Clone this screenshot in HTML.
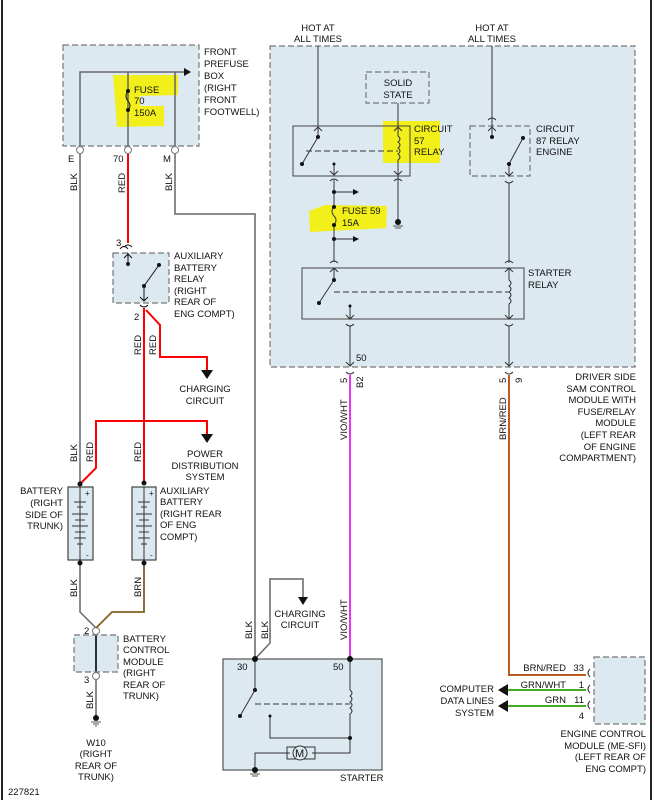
<!DOCTYPE html>
<html><head><meta charset="utf-8"><style>
html,body{margin:0;padding:0;background:#fff}
svg{display:block}
text{font-family:"Liberation Sans",Arial,sans-serif;font-size:9.5px;fill:#111}
</style></head><body>
<svg width="655" height="800" viewBox="0 0 655 800" xmlns="http://www.w3.org/2000/svg">
<defs>
<marker id="ar" markerWidth="8" markerHeight="8" refX="6" refY="4" orient="auto" markerUnits="userSpaceOnUse"><path d="M0,0 L7,4 L0,8 Z" fill="#111"/></marker>
<marker id="sa" markerWidth="6" markerHeight="6" refX="5" refY="3" orient="auto" markerUnits="userSpaceOnUse"><path d="M0,0 L6,3 L0,6 Z" fill="#111"/></marker>
</defs>
<rect width="655" height="800" fill="#fff"/>
<line x1="2" y1="0" x2="2" y2="800" stroke="#222" stroke-width="2"/>
<line x1="651" y1="0" x2="651" y2="800" stroke="#222" stroke-width="2"/>

<!-- boxes with fill -->
<g fill="#dde9f1" stroke="#777" stroke-dasharray="6,3" stroke-width="1.2">
<rect x="63" y="45" width="136" height="101"/>
<rect x="270" y="46" width="365" height="321"/>
<rect x="113" y="253" width="56" height="50"/>
<rect x="74" y="635" width="44" height="37"/>
<rect x="594" y="657" width="51" height="67"/>
</g>
<g fill="none" stroke="#777" stroke-dasharray="6,3" stroke-width="1.2">
<rect x="366" y="72" width="63" height="31"/>
<rect x="470" y="126" width="60" height="50"/>
</g>
<rect x="223" y="659" width="159" height="111" fill="#dde9f1" stroke="#555" stroke-width="1.2"/>

<!-- highlights -->
<g fill="#f2ef1a">
<path d="M113,75 L178,75 L178,95 L140,96 L140,106 L164,106 L164,126 L117,127 Z"/>
<rect x="383" y="121" width="57" height="42"/>
<path d="M309,211 L325,205 L387,206 L386,228 L310,232 Z"/>
</g>

<!-- gray wires -->
<g stroke="#666" stroke-width="1.5" fill="none">
<path d="M80,146 L80,72 L190,72" marker-end="url(#ar)"/>
<line x1="128" y1="72" x2="128" y2="146"/>
<line x1="175" y1="72" x2="175" y2="146"/>
<path d="M80,154 L80,484"/>
<path d="M175,154 L175,214 L255,214 L255,659"/>
<path d="M255,659 L270,643 L270,579 L303,579 L303,600"/>
<path d="M80,563 L80,612 L96,628"/>
<line x1="96" y1="635" x2="96" y2="672"/>
<line x1="96" y1="680" x2="96" y2="716"/>
</g>
<path d="M303,597 l-5,0 l5,8 l5,-8 z" fill="#111"/>
<g stroke="#111" stroke-width="1.6"><line x1="96" y1="636" x2="96" y2="671"/></g>
<circle cx="80" cy="150" r="3.5" fill="#fff" stroke="#777"/>
<circle cx="128" cy="150" r="3.5" fill="#fff" stroke="#777"/>
<circle cx="175" cy="150" r="3.5" fill="#fff" stroke="#777"/>
<circle cx="96" cy="631" r="3.5" fill="#fff" stroke="#777"/>
<circle cx="96" cy="676" r="3.5" fill="#fff" stroke="#777"/>
<!-- fuse 70 -->
<circle cx="128" cy="91" r="2" fill="#111"/><circle cx="128" cy="110" r="2" fill="#111"/>
<path d="M128,91 q-4,5 0,10 q4,5 0,9" stroke="#111" fill="none"/>
<!-- ground W10 -->
<circle cx="96" cy="718" r="3" fill="#111"/>
<g stroke="#555"><line x1="91" y1="722" x2="101" y2="722"/><line x1="93" y1="724" x2="99" y2="724"/><line x1="95" y1="726" x2="97" y2="726"/></g>

<!-- red wires -->
<g stroke="#f00" stroke-width="2" fill="none">
<line x1="128" y1="154" x2="128" y2="243"/>
<line x1="144" y1="308" x2="144" y2="483"/>
<path d="M146,310 L160,325 L160,357 L207,357 L207,372"/>
<path d="M80,484 L96,468 L96,421 L207,421 L207,436"/>
</g>
<path d="M201,370 l12,0 l-6,9 z M201,434 l12,0 l-6,9 z" fill="#111"/>
<!-- brown -->
<path d="M144,563 L144,612 L112,612 L96,628" stroke="#806020" stroke-width="1.8" fill="none"/>

<!-- aux relay internals -->
<g stroke="#111" fill="none" stroke-width="1">
<path d="M124,247 q4,-4 8,0 M120,249 q4,-5 8,0" />
<line x1="128" y1="253" x2="128" y2="264"/>
<path d="M124,258 l4,-4 l4,4"/>
<line x1="144" y1="286" x2="159" y2="265"/>
<line x1="144" y1="286" x2="144" y2="301"/>
<path d="M140,297 l4,4 l4,-4"/>
<path d="M140,305 q4,4 8,0"/>
</g>
<circle cx="128" cy="264" r="2" fill="#111"/><circle cx="159" cy="265" r="2" fill="#111"/><circle cx="144" cy="286" r="2" fill="#111"/>

<!-- batteries -->
<g stroke="#444" fill="#dde9f1" stroke-width="1.2">
<rect x="68" y="487" width="25" height="73"/>
<rect x="132" y="487" width="24" height="73"/>
</g>
<g stroke="#333" stroke-width="1">
<line x1="80" y1="487" x2="80" y2="560"/><line x1="144" y1="487" x2="144" y2="560"/>
<line x1="74" y1="502" x2="86" y2="502"/><line x1="77" y1="507" x2="83" y2="507"/>
<line x1="72" y1="514" x2="88" y2="514"/><line x1="75" y1="520" x2="85" y2="520"/>
<line x1="72" y1="526" x2="88" y2="526"/><line x1="75" y1="532" x2="85" y2="532"/>
<line x1="74" y1="538" x2="86" y2="538"/><line x1="77" y1="544" x2="83" y2="544"/>
<line x1="138" y1="502" x2="150" y2="502"/><line x1="141" y1="507" x2="147" y2="507"/>
<line x1="136" y1="514" x2="152" y2="514"/><line x1="139" y1="520" x2="149" y2="520"/>
<line x1="136" y1="526" x2="152" y2="526"/><line x1="139" y1="532" x2="149" y2="532"/>
<line x1="138" y1="538" x2="150" y2="538"/><line x1="141" y1="544" x2="147" y2="544"/>
</g>
<circle cx="80" cy="484" r="2.5" fill="#111"/><circle cx="144" cy="483" r="2.5" fill="#111"/>
<circle cx="80" cy="563" r="2.5" fill="#111"/><circle cx="144" cy="563" r="2.5" fill="#111"/>
<text x="85" y="496" style="font-size:8px">+</text><text x="149" y="496" style="font-size:8px">+</text>
<text x="86" y="558" style="font-size:8px">-</text><text x="150" y="558" style="font-size:8px">-</text>

<!-- SAM internals -->
<g stroke="#333" stroke-width="1" fill="none">
<line x1="318" y1="46" x2="318" y2="126"/>
<line x1="492" y1="46" x2="492" y2="120"/>
<rect x="293" y="126" width="117" height="50" stroke="#444"/>
<rect x="302" y="268" width="222" height="51" stroke="#444"/>
<path d="M314,131 l4,-4 l4,4"/>
<line x1="318" y1="127" x2="318" y2="137"/>
<line x1="302" y1="164" x2="318" y2="137"/>
<line x1="306" y1="151" x2="398" y2="151" stroke-dasharray="6,3"/>
<line x1="398" y1="103" x2="398" y2="126"/>
<path d="M394,131 l4,-4 l4,4"/>
<path d="M398,127 L398,136 q4,3 0,6 q4,3 0,6 q4,3 0,6 q4,3 0,6 L398,175"/>
<path d="M394,171 l4,4 l4,-4"/>
<path d="M394,181 q4,-4 8,0"/>
<line x1="398" y1="176" x2="398" y2="222"/>
<line x1="334" y1="164" x2="334" y2="175"/>
<path d="M330,171 l4,4 l4,-4"/>
<path d="M330,181 q4,-4 8,0"/>
<line x1="334" y1="180" x2="334" y2="207"/>
<path d="M334,207 q-4,4 0,9 q4,4 0,9"/>
<line x1="334" y1="225" x2="334" y2="262"/>
<line x1="334" y1="192" x2="358" y2="192" marker-end="url(#sa)"/>
<line x1="334" y1="239" x2="358" y2="239" marker-end="url(#sa)"/>
<path d="M330,263 q4,-4 8,0"/>
<path d="M330,272 l4,-4 l4,4"/>
<line x1="334" y1="268" x2="334" y2="280"/>
<line x1="319" y1="303" x2="334" y2="280"/>
<line x1="334" y1="292" x2="509" y2="292" stroke-dasharray="6,3"/>
<line x1="350" y1="306" x2="350" y2="319"/>
<path d="M346,315 l4,4 l4,-4"/>
<path d="M346,324 q4,4 8,0"/>
<line x1="350" y1="326" x2="350" y2="366"/>
<path d="M346,362 l4,4 l4,-4"/>
<path d="M346,372 q4,4 8,0"/>
<path d="M488,120 q4,-4 8,0"/>
<line x1="492" y1="120" x2="492" y2="137"/>
<path d="M488,131 l4,-4 l4,4"/>
<line x1="509" y1="164" x2="523" y2="138"/>
<line x1="509" y1="164" x2="509" y2="176"/>
<path d="M505,172 l4,4 l4,-4"/>
<path d="M505,181 q4,4 8,0"/>
<line x1="509" y1="183" x2="509" y2="263"/>
<path d="M505,263 q4,-4 8,0"/>
<path d="M505,272 l4,-4 l4,4"/>
<path d="M509,268 L509,280 q4,3 0,6 q4,3 0,6 q4,3 0,6 q4,3 0,6 L509,319"/>
<path d="M505,315 l4,4 l4,-4"/>
<path d="M505,324 q4,4 8,0"/>
<line x1="509" y1="326" x2="509" y2="366"/>
<path d="M505,362 l4,4 l4,-4"/>
<path d="M505,372 q4,4 8,0"/>
</g>
<g fill="#111">
<circle cx="318" cy="137" r="2"/><circle cx="302" cy="164" r="2"/><circle cx="334" cy="164" r="1.5"/>
<circle cx="334" cy="192" r="2"/><circle cx="334" cy="207" r="2"/><circle cx="334" cy="225" r="2"/><circle cx="334" cy="239" r="2"/>
<circle cx="398" cy="222" r="3"/>
<circle cx="334" cy="280" r="2"/><circle cx="319" cy="303" r="2"/><circle cx="350" cy="306" r="1.5"/>
<circle cx="492" cy="137" r="2"/><circle cx="523" cy="138" r="2"/><circle cx="509" cy="164" r="2"/>
</g>
<g stroke="#555"><line x1="393" y1="226" x2="403" y2="226"/><line x1="395" y1="228" x2="401" y2="228"/></g>

<!-- magenta and brn/red -->
<line x1="350" y1="375" x2="350" y2="659" stroke="#ee33ee" stroke-width="2"/>
<path d="M509,375 L509,675 L586,675" stroke="#b5651d" stroke-width="2" fill="none"/>
<path d="M509,375 L509,675 L586,675" stroke="#cc4a2a" stroke-width="0.6" fill="none"/>
<g stroke="#44aa22" stroke-width="2"><line x1="506" y1="690" x2="586" y2="690"/><line x1="506" y1="706" x2="586" y2="706"/></g>
<path d="M498,690 l10,-6 l0,12 z M498,706 l10,-6 l0,12 z" fill="#111"/>
<g stroke="#333" fill="none">
<path d="M590,669 q-4,4 0,8 M590,685 q-4,4 0,8 M590,701 q-4,4 0,8"/>
</g>

<!-- starter internals -->
<g stroke="#333" fill="none" stroke-width="1">
<line x1="255" y1="659" x2="255" y2="690"/>
<line x1="255" y1="690" x2="240" y2="716"/>
<line x1="255" y1="704" x2="350" y2="704" stroke-dasharray="6,3"/>
<path d="M350,659 L350,690 q4,3 0,6 q4,3 0,6 q4,3 0,6 q4,3 0,6 L350,738"/>
<path d="M270,716 L270,738 L350,738 L350,753 L312,753"/>
<path d="M290,753 L255,753 L255,770"/>
<rect x="287" y="747" width="28" height="12"/>
<circle cx="300" cy="753" r="7" fill="#dde9f1"/>
</g>
<text x="295" y="757" style="font-size:11px">M</text>
<g fill="#111"><circle cx="255" cy="659" r="3"/><circle cx="350" cy="659" r="3"/><circle cx="255" cy="690" r="2"/><circle cx="240" cy="716" r="2"/><circle cx="270" cy="716" r="1.5"/><circle cx="350" cy="738" r="2"/><circle cx="255" cy="770" r="3"/></g>
<g stroke="#555"><line x1="250" y1="774" x2="260" y2="774"/><line x1="252" y1="776" x2="258" y2="776"/></g>

<!-- texts -->
<text x="204" y="55">FRONT</text><text x="204" y="67">PREFUSE</text><text x="204" y="79">BOX</text><text x="204" y="91">(RIGHT</text><text x="204" y="103">FRONT</text><text x="204" y="115">FOOTWELL)</text>
<text x="134" y="93">FUSE</text><text x="134" y="104">70</text><text x="134" y="116">150A</text>
<text x="68" y="162">E</text><text x="113" y="162">70</text><text x="163" y="162">M</text>
<g style="font-size:9px">
<text transform="translate(77,191) rotate(-90)">BLK</text>
<text transform="translate(125,193) rotate(-90)">RED</text>
<text transform="translate(172,191) rotate(-90)">BLK</text>
<text transform="translate(141,355) rotate(-90)">RED</text>
<text transform="translate(156,355) rotate(-90)">RED</text>
<text transform="translate(77,462) rotate(-90)">BLK</text>
<text transform="translate(93,462) rotate(-90)">RED</text>
<text transform="translate(141,462) rotate(-90)">RED</text>
<text transform="translate(77,597) rotate(-90)">BLK</text>
<text transform="translate(141,597) rotate(-90)">BRN</text>
<text transform="translate(93,709) rotate(-90)">BLK</text>
<text transform="translate(252,639) rotate(-90)">BLK</text>
<text transform="translate(268,639) rotate(-90)">BLK</text>
<text transform="translate(347,640) rotate(-90)">VIO/WHT</text>
<text transform="translate(347,440) rotate(-90)">VIO/WHT</text>
<text transform="translate(506,440) rotate(-90)">BRN/RED</text>
<text transform="translate(347,383) rotate(-90)">5</text>
<text transform="translate(363,388) rotate(-90)">B2</text>
<text transform="translate(506,383) rotate(-90)">5</text>
<text transform="translate(522,383) rotate(-90)">9</text>
</g>
<text x="116" y="246">3</text><text x="134" y="320">2</text>
<text x="174" y="259">AUXILIARY</text><text x="174" y="271">BATTERY</text><text x="174" y="282">RELAY</text><text x="174" y="294">(RIGHT</text><text x="174" y="305">REAR OF</text><text x="174" y="317">ENG COMPT)</text>
<g text-anchor="middle">
<text x="205" y="392">CHARGING</text><text x="205" y="404">CIRCUIT</text>
<text x="205" y="457">POWER</text><text x="205" y="469">DISTRIBUTION</text><text x="205" y="480">SYSTEM</text>
<text x="300" y="617">CHARGING</text><text x="300" y="628">CIRCUIT</text>
<text x="96" y="746">W10</text><text x="96" y="757">(RIGHT</text><text x="96" y="769">REAR OF</text><text x="96" y="780">TRUNK)</text>
<text x="318" y="31">HOT AT</text><text x="318" y="42">ALL TIMES</text>
<text x="492" y="31">HOT AT</text><text x="492" y="42">ALL TIMES</text>
<text x="398" y="86">SOLID</text><text x="398" y="98">STATE</text>
</g>
<g text-anchor="end">
<text x="63" y="494">BATTERY</text><text x="63" y="506">(RIGHT</text><text x="63" y="518">SIDE OF</text><text x="63" y="529">TRUNK)</text>
<text x="494" y="692">COMPUTER</text><text x="494" y="704">DATA LINES</text><text x="494" y="716">SYSTEM</text>
<text x="636" y="380">DRIVER SIDE</text><text x="636" y="392">SAM CONTROL</text><text x="636" y="403">MODULE WITH</text><text x="636" y="415">FUSE/RELAY</text><text x="636" y="426">MODULE</text><text x="636" y="438">(LEFT REAR</text><text x="636" y="450">OF ENGINE</text><text x="636" y="461">COMPARTMENT)</text>
<text x="646" y="737">ENGINE CONTROL</text><text x="646" y="749">MODULE (ME-SFI)</text><text x="646" y="760">(LEFT REAR OF</text><text x="646" y="772">ENG COMPT)</text>
<text x="566" y="671">BRN/RED</text><text x="584" y="671">33</text>
<text x="566" y="688">GRN/WHT</text><text x="584" y="688">1</text>
<text x="566" y="703">GRN</text><text x="584" y="703">11</text>
<text x="584" y="719">4</text>
</g>
<text x="160" y="494">AUXILIARY</text><text x="160" y="505">BATTERY</text><text x="160" y="517">(RIGHT REAR</text><text x="160" y="528">OF ENG</text><text x="160" y="540">COMPT)</text>
<text x="123" y="642">BATTERY</text><text x="123" y="653">CONTROL</text><text x="123" y="665">MODULE</text><text x="123" y="676">(RIGHT</text><text x="123" y="688">REAR OF</text><text x="123" y="699">TRUNK)</text>
<text x="84" y="634">2</text><text x="84" y="683">3</text>
<text x="414" y="132">CIRCUIT</text><text x="414" y="144">57</text><text x="414" y="155">RELAY</text>
<text x="536" y="132">CIRCUIT</text><text x="536" y="144">87 RELAY</text><text x="536" y="155">ENGINE</text>
<text x="342" y="214">FUSE 59</text><text x="342" y="226">15A</text>
<text x="528" y="276">STARTER</text><text x="528" y="288">RELAY</text>
<text x="356" y="361">50</text>
<text x="237" y="670">30</text><text x="333" y="670">50</text>
<text x="340" y="781">STARTER</text>
<text x="8" y="795">227821</text>
</svg>
</body></html>
